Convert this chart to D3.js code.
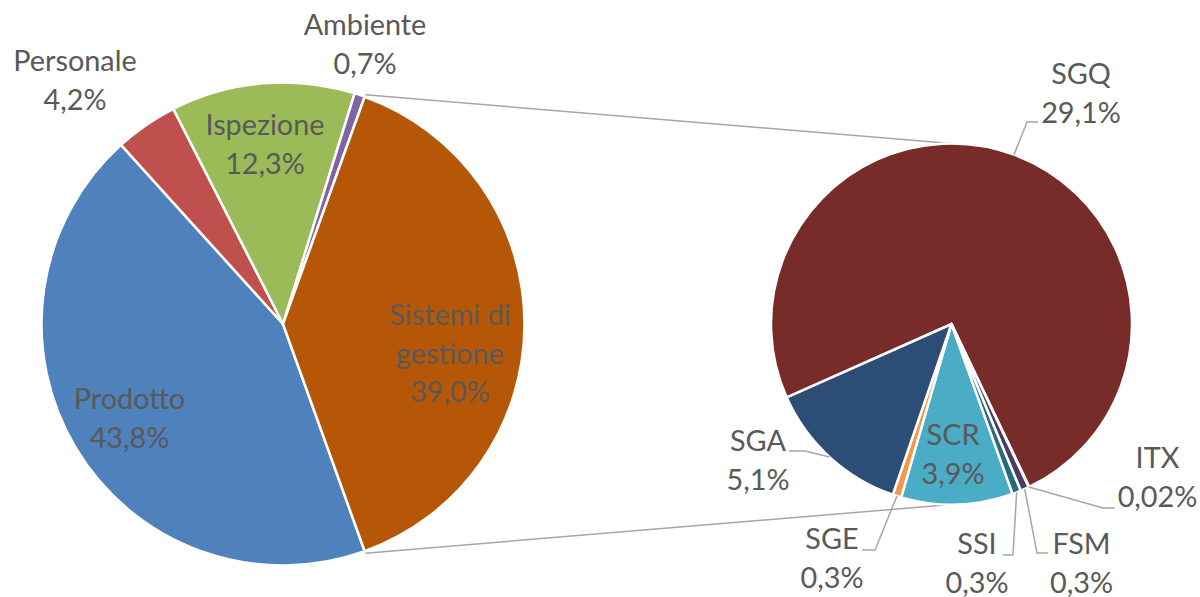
<!DOCTYPE html>
<html><head><meta charset="utf-8">
<script src="https://cdn.jsdelivr.net/npm/d3@7"></script>
<style>
body{margin:0;background:#fff}
svg{display:block}
text{font-family:Lato,"Noto Sans",sans-serif;}
</style>
</head><body><div id="chart"></div>
<script>
// ---- data ----
const mainCategories = ["Prodotto", "Personale", "Ispezione", "Ambiente"];
const mainValues = [43.8, 4.2, 12.3, 0.7];
const mainValueLabels = ["43,8%", "4,2%", "12,3%", "0,7%"];
const otherCategory = "Sistemi di gestione";
const otherValueLabel = "39,0%";
const subCategories = ["SCR", "SGE", "SGA", "SGQ", "ITX", "FSM", "SSI"];
const subValues = [3.9, 0.3, 5.1, 29.1, 0.02, 0.3, 0.3];
const subValueLabels = ["3,9%", "0,3%", "5,1%", "29,1%", "0,02%", "0,3%", "0,3%"];

// ---- styles / layout ----
const W = 1200, H = 597;
const mainColors = ["#4F81BD", "#C0504D", "#9BBB59", "#8064A2", "#B65708"];
const subColors = ["#4BACC6", "#F79646", "#2C4D75", "#772C2A", "#5F7530", "#4D3B62", "#276A7C"];
const mainC = {x: 283, y: 324, r: 241.5};
const subC = {x: 951.5, y: 324, r: 180.5};
const lineH = 38.5;
const fontSize = 28.8;
const textColor = "#595959";
const lineColor = "#A6A6A6";

// label layout: [x, baseline y of first line]
const mainLabelPos = {
  "Prodotto": [129.5, 409],
  "Personale": [75, 71],
  "Ispezione": [265, 135],
  "Ambiente": [365, 35],
  "Sistemi di gestione": [450, 325]
};
const subLabelPos = {
  "SCR": [953, 445],
  "SGE": [832, 549],
  "SGA": [758, 451],
  "SGQ": [1081, 84],
  "ITX": [1157.5, 468],
  "FSM": [1081.5, 554],
  "SSI": [977, 554]
};
// leader elbows: [elbow, end]
const subLeaders = {
  "SGE": [[875, 550], [862, 550]],
  "SGA": [[805, 451], [789, 451]],
  "SGQ": [[1027, 122], [1038, 122]],
  "ITX": [[1103, 508], [1115, 508]],
  "FSM": [[1037, 553], [1048, 553]],
  "SSI": [[1013, 555], [1003, 555]]
};

const svg = d3.select("#chart").append("svg").attr("width", W).attr("height", H);
svg.append("rect").attr("width", W).attr("height", H).attr("fill", "#fff");

const otherTotal = d3.sum(subValues);
const mainData = mainCategories.map((c, i) => ({cat: c, value: mainValues[i], label: mainValueLabels[i], color: mainColors[i]}));
mainData.push({cat: otherCategory, value: otherTotal, label: otherValueLabel, color: mainColors[4], other: true});
const total = d3.sum(mainData, d => d.value);

// "other" slice centred pointing right (pi/2)
const start = Math.PI / 2 + (otherTotal / total) * Math.PI;
const mainPie = d3.pie().sort(null).value(d => d.value).startAngle(start).endAngle(start + 2 * Math.PI);
const mainArcs = mainPie(mainData);
const mainArc = d3.arc().innerRadius(0).outerRadius(mainC.r);

const subData = subCategories.map((c, i) => ({cat: c, value: subValues[i], label: subValueLabels[i], color: subColors[i]}));
const subPie = d3.pie().sort(null).value(d => d.value).startAngle(start).endAngle(start + 2 * Math.PI);
const subArcs = subPie(subData);
const subArc = d3.arc().innerRadius(0).outerRadius(subC.r);

function pt(c, r, a) { return [c.x + r * Math.sin(a), c.y - r * Math.cos(a)]; }

// connector lines
const oth = mainArcs.find(d => d.data.other);
const p1 = pt(mainC, mainC.r + 2, oth.startAngle), p2 = pt(mainC, mainC.r + 2, oth.endAngle);
const s1 = pt(subC, subC.r, 0), s2 = pt(subC, subC.r, Math.PI);
svg.append("g").selectAll("line").data([[p1, s1], [p2, s2]]).join("line")
  .attr("x1", d => d[0][0]).attr("y1", d => d[0][1])
  .attr("x2", d => d[1][0]).attr("y2", d => d[1][1])
  .attr("stroke", lineColor).attr("stroke-width", 1.5);

// main pie
svg.append("g").attr("transform", `translate(${mainC.x},${mainC.y})`)
  .selectAll("path").data(mainArcs).join("path")
  .attr("d", mainArc).attr("fill", d => d.data.color)
  .attr("stroke", "#fff").attr("stroke-width", 2.5).attr("stroke-linejoin", "round");

// sub pie
svg.append("g").attr("transform", `translate(${subC.x},${subC.y})`)
  .selectAll("path").data(subArcs).join("path")
  .attr("d", subArc).attr("fill", d => d.data.color)
  .attr("stroke", "#fff").attr("stroke-width", 2.5).attr("stroke-linejoin", "round");

// leader lines
subArcs.forEach(d => {
  const L = subLeaders[d.data.cat];
  if (!L) return;
  const mid = (d.startAngle + d.endAngle) / 2;
  const p = pt(subC, subC.r, mid);
  svg.append("polyline")
    .attr("points", [p, L[0], L[1]].map(q => q.join(",")).join(" "))
    .attr("fill", "none").attr("stroke", lineColor).attr("stroke-width", 1.5);
});

function addLabel(lines, pos) {
  const t = svg.append("text").attr("text-anchor", "middle")
    .attr("font-size", fontSize).attr("fill", textColor);
  lines.forEach((s, i) => {
    t.append("tspan").attr("x", pos[0]).attr("y", pos[1] + i * lineH).text(s);
  });
}
mainArcs.forEach(d => {
  const lines = d.data.other ? ["Sistemi di", "gestione", d.data.label] : [d.data.cat, d.data.label];
  addLabel(lines, mainLabelPos[d.data.cat]);
});
subArcs.forEach(d => addLabel([d.data.cat, d.data.label], subLabelPos[d.data.cat]));
</script>
</body></html>
